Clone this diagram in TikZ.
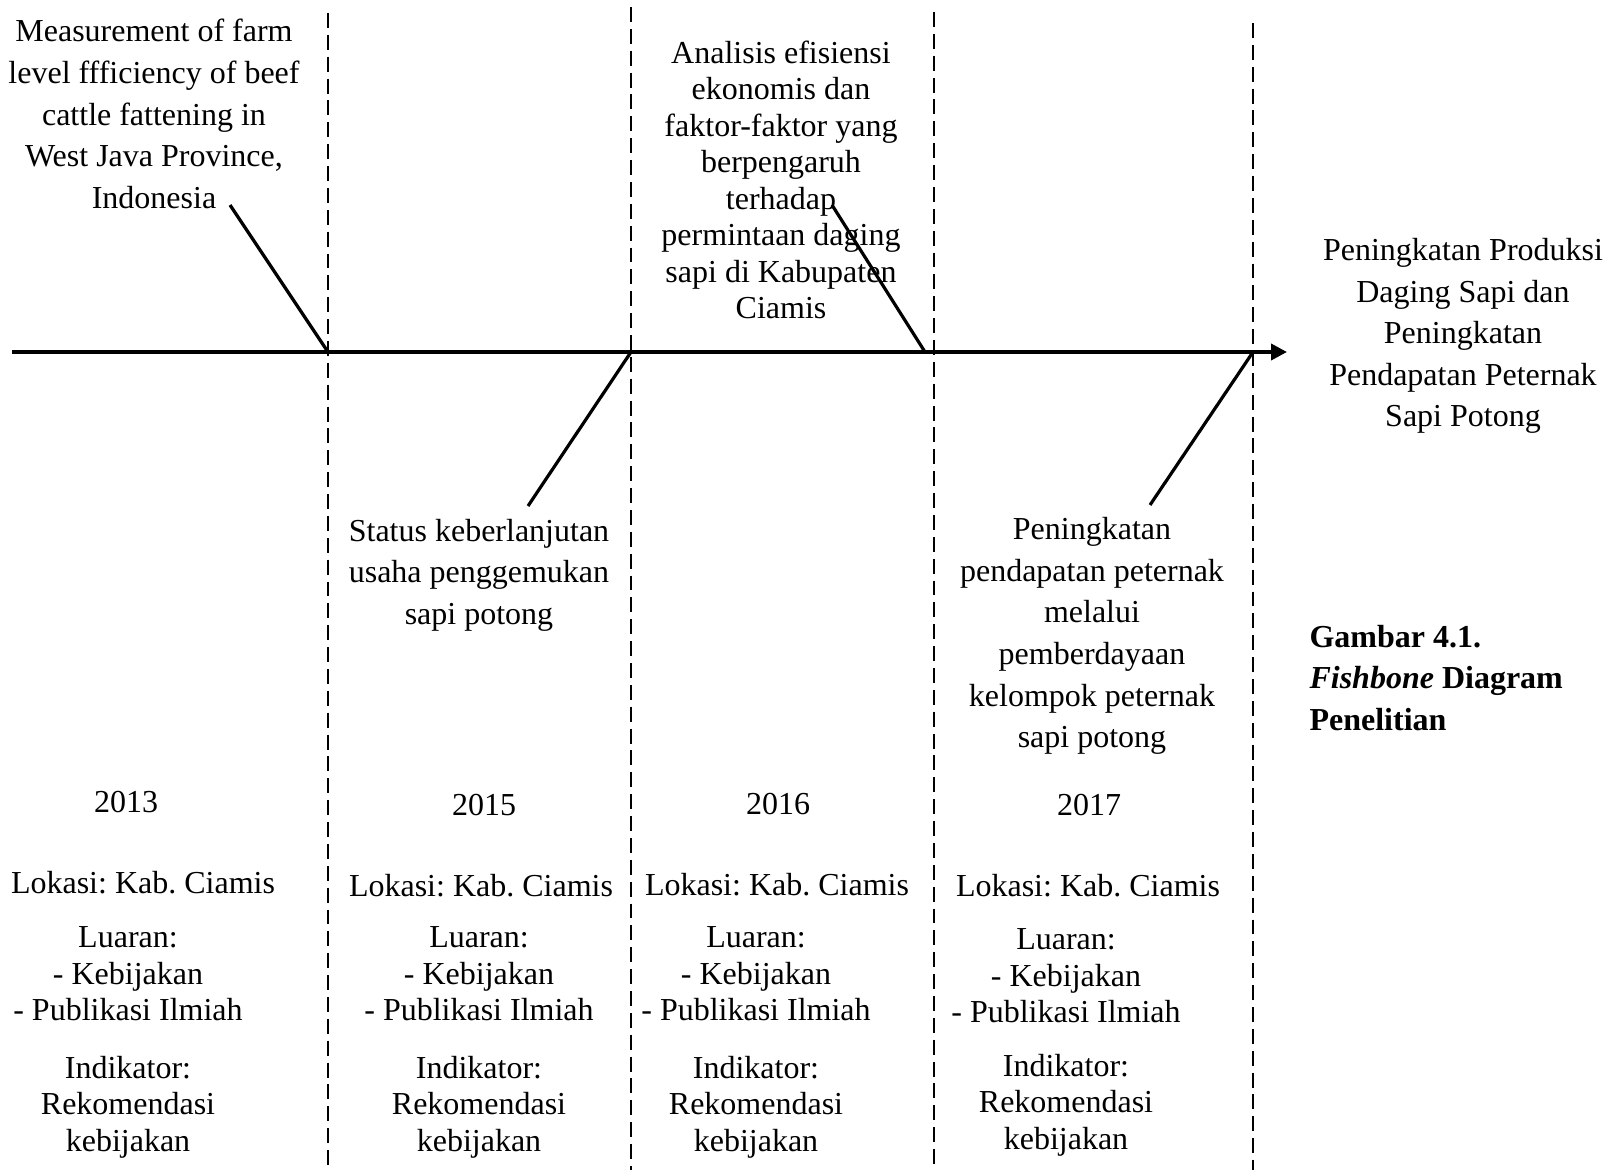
\documentclass[tikz,border=0pt]{standalone}
\usepackage{fontspec}
\setmainfont{Liberation Serif}
\usetikzlibrary{arrows.meta}
\newcommand{\boneWidth}[0]{1.2pt}
\newcommand{\bodySize}[0]{\fontsize{12}{15.6}\selectfont}
\newcommand{\tightSize}[0]{\fontsize{12}{13.7}\selectfont}
\frenchspacing

\begin{document}
\begin{tikzpicture}[x=0.375pt, y=-0.375pt]
  \tikzset{lbl/.style={align=center, inner sep=0pt, font=\bodySize},
           tight lbl/.style={lbl, font=\tightSize},
           spine/.style={line width=1.4pt, -{Triangle[length=6pt,width=6pt]}},
           bone/.style={line width=\boneWidth},
           divider/.style={line width=0.75pt, dash pattern=on 5.6pt off 2.6pt}}
  \useasboundingbox (0,0) rectangle (1606,1170);
  % dividers between the years
  \coordinate (d1top) at (328,13);   \coordinate (d1bot) at (328,1170);
  \coordinate (d2top) at (631,7);    \coordinate (d2bot) at (631,1170);
  \coordinate (d3top) at (934,12);   \coordinate (d3bot) at (934,1170);
  \coordinate (d4top) at (1253,23);  \coordinate (d4bot) at (1253,1170);
  \foreach \d in {d1,d2,d3,d4}
    \draw[divider] (\d top) -- (\d bot);
  % spine
  \coordinate (tail) at (12,352);
  \coordinate (head) at (1287,352);
  \draw[spine] (tail) -- (head);
  % research topics
  \node[lbl] (topic2013) at (154,114) {Measurement of farm\\level ffficiency of beef\\cattle fattening in\\West Java Province,\\Indonesia};
  \node[tight lbl] (topic2016) at (781,180) {Analisis efisiensi\\ekonomis dan\\faktor-faktor yang\\berpengaruh\\terhadap\\permintaan daging\\sapi di Kabupaten\\Ciamis};
  \node[lbl] (topic2015) at (479,575) {Status keberlanjutan\\usaha penggemukan\\sapi potong};
  \node[lbl] (topic2017) at (1092,636) {Peningkatan\\pendapatan peternak\\melalui\\pemberdayaan\\kelompok peternak\\sapi potong};
  \node[lbl] (goal) at (1463,336) {Peningkatan Produksi\\Daging Sapi dan\\Peningkatan\\Pendapatan Peternak\\Sapi Potong};
  \node[lbl, align=left, anchor=west, font=\bodySize\bfseries] (caption) at (1309,678) {Gambar 4.1.\\\textit{Fishbone} Diagram\\Penelitian};
  % bones
  \coordinate (b2013) at (230,205);  \coordinate (s2013) at (328,352);
  \coordinate (b2015) at (528,506);  \coordinate (s2015) at (631,352);
  \coordinate (b2016) at (832,205);  \coordinate (s2016) at (925,352);
  \coordinate (b2017) at (1150,505); \coordinate (s2017) at (1253,352);
  \foreach \y in {2013,2015,2016,2017}
    \draw[bone] (b\y) -- (s\y);
  % years and details
  \foreach \y/\x/\lx/\dy in {2013/126/143/0, 2015/484/481/3, 2016/778/777/2, 2017/1089/1088/3} {
    \node[lbl] (yr\y) at (\x,802+\dy) {\y};
    \node[lbl] (loc\y) at (\lx,883+\dy) {Lokasi: Kab. Ciamis};
  }
  \foreach \y/\x/\dy in {2013/128/0, 2015/479/0, 2016/756/0, 2017/1066/2} {
    \node[tight lbl] (out\y) at (\x,974+\dy) {Luaran:\\- Kebijakan\\- Publikasi Ilmiah};
    \node[tight lbl] (ind\y) at (\x,1107-\dy) {Indikator:\\Rekomendasi\\kebijakan};
  }
\end{tikzpicture}
\end{document}
